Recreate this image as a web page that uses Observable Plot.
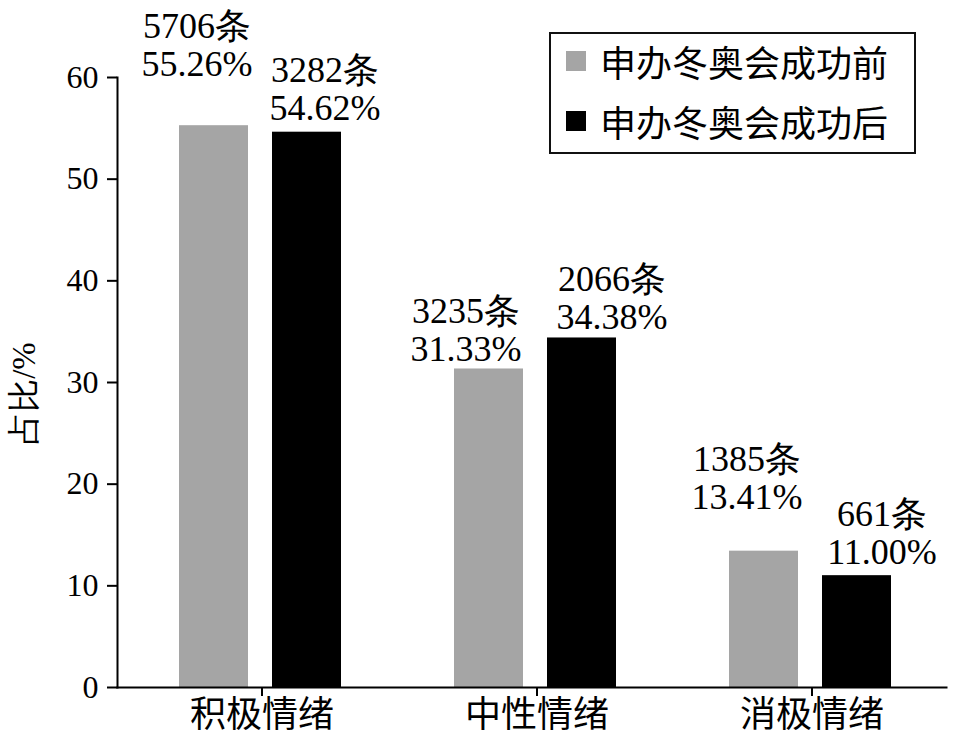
<!DOCTYPE html>
<html>
<head>
<meta charset="utf-8">
<script src="https://cdn.jsdelivr.net/npm/d3@7"></script>
<script src="https://cdn.jsdelivr.net/npm/@observablehq/plot@0.6"></script>
<style>
  html, body { margin: 0; padding: 0; background: #fff; }
  #wrap { position: relative; width: 955px; height: 746px; }
  #legend {
    position: absolute; left: 549px; top: 32px; width: 363px; height: 118px;
    border: 2px solid #111; background: #fff;
    font-family: "Noto Sans CJK SC", sans-serif; font-size: 36px; color: #000;
  }
  #legend .row { position: absolute; left: 15px; display: flex; align-items: center; height: 40px; white-space: nowrap; }
  #legend .sw { width: 20px; height: 20px; margin-right: 14px; }
</style>
</head>
<body>
<div id="wrap"><div id="legend"></div></div>
<script>
// ---- data ----
const categories = ["积极情绪", "中性情绪", "消极情绪"];
const seriesNames = ["申办冬奥会成功前", "申办冬奥会成功后"];
const beforePct = [55.26, 31.33, 13.41];
const beforeCount = [5706, 3235, 1385];
const afterPct = [54.62, 34.38, 11.00];
const afterCount = [3282, 2066, 661];
const yTicks = [0, 10, 20, 30, 40, 50, 60];
const colors = ["#a5a5a5", "#000000"];

// ---- layout config (not data) ----
const serif = '"Liberation Serif", serif';
const cjk = '"Noto Sans CJK SC", sans-serif';
const barInsets = [[55, 151], [148, 58]];
const labelNudge = [
  [[-17, -50], [-23, -8], [-17, -42]],
  [[18, -12], [30, -9], [25, -12]]
];

const rows = [
  categories.map((c, i) => ({cat: c, pct: beforePct[i], n: beforeCount[i]})),
  categories.map((c, i) => ({cat: c, pct: afterPct[i], n: afterCount[i]}))
];

const marks = [];
rows.forEach((data, s) => {
  marks.push(Plot.barY(data, {
    x: "cat", y: "pct", fill: colors[s],
    insetLeft: barInsets[s][0], insetRight: barInsets[s][1]
  }));
  data.forEach((d, i) => {
    const barCenterShift = (barInsets[s][0] - barInsets[s][1]) / 2;
    marks.push(Plot.text([d], {
      x: "cat", y: "pct",
      text: (r) => `${r.n}条\n${r.pct.toFixed(2)}%`,
      lineAnchor: "bottom", textAnchor: "middle",
      lineHeight: 1.06, fontSize: 36, fontFamily: serif, fill: "#000",
      dx: barCenterShift + labelNudge[s][i][0], dy: labelNudge[s][i][1]
    }));
  });
});

const chart = Plot.plot({
  width: 955, height: 746,
  marginTop: 77, marginBottom: 59, marginLeft: 117, marginRight: 9,
  style: {fontFamily: serif, fontSize: "30px", color: "#000", background: "#fff", overflow: "visible"},
  x: {type: "band", domain: categories, range: [123, 950], padding: 0},
  y: {domain: [0, 60]},
  marks: [
    ...marks,
    Plot.axisY({ticks: yTicks, tickSize: 10, tickPadding: 9, label: null, strokeWidth: 2, fontSize: 32, fontFamily: serif}),
    Plot.axisX({tickSize: 9, tickPadding: 5, label: null, strokeWidth: 2, fontSize: 36, fontFamily: cjk}),
    Plot.frame({anchor: "left", strokeWidth: 2}),
    Plot.frame({anchor: "bottom", strokeWidth: 2}),
    Plot.text(["占比/%"], {frameAnchor: "left", textAnchor: "middle", rotate: -90, dx: -93, dy: 11, fontSize: 33, fontFamily: serif, fill: "#000"})
  ]
});
document.getElementById("wrap").prepend(chart);

// legend
const legend = document.getElementById("legend");
seriesNames.forEach((name, i) => {
  const row = document.createElement("div");
  row.className = "row";
  row.style.top = (7 + i * 60) + "px";
  const sw = document.createElement("span");
  sw.className = "sw";
  sw.style.background = colors[i];
  const t = document.createElement("span");
  t.textContent = name;
  row.append(sw, t);
  legend.append(row);
});
</script>
</body>
</html>
